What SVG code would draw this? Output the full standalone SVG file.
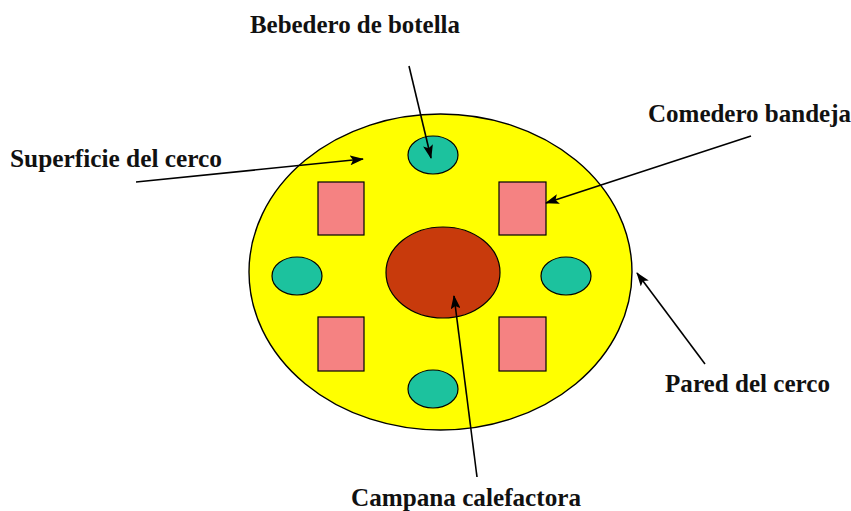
<svg xmlns="http://www.w3.org/2000/svg" width="851" height="511" viewBox="0 0 851 511">
<defs>
<marker id="ah" viewBox="0 0 14 10" refX="13" refY="5" markerWidth="14" markerHeight="10" markerUnits="userSpaceOnUse" orient="auto">
<path d="M0,0 L14,5 L0,10 L3,5 Z" fill="#000"/>
</marker>
<style>
.lbl{font-family:"Liberation Serif","Times New Roman",serif;font-weight:bold;font-size:25px;fill:#111;}
.conn line{stroke:#000;stroke-width:1.6;marker-end:url(#ah);}
.drink{fill:#1CC29E;stroke:#000;stroke-width:1.2;}
.feed{fill:#F58282;stroke:#000;stroke-width:1.2;}
</style>
</defs>
<rect width="851" height="511" fill="#fff"/>
<g id="pared">
<ellipse cx="440.5" cy="272" rx="191.5" ry="158" fill="#FFFF00" stroke="#000" stroke-width="1.4"/>
</g>
<g id="bebedero-top"><ellipse class="drink" cx="433" cy="155" rx="25" ry="19"/></g>
<g id="bebedero-left"><ellipse class="drink" cx="297" cy="276" rx="25" ry="19"/></g>
<g id="bebedero-right"><ellipse class="drink" cx="566" cy="276" rx="25" ry="19"/></g>
<g id="bebedero-bottom"><ellipse class="drink" cx="433" cy="389" rx="25" ry="19"/></g>
<g id="comedero-tl"><rect class="feed" x="318" y="182" width="46" height="53"/></g>
<g id="comedero-tr"><rect class="feed" x="499" y="182" width="47" height="53"/></g>
<g id="comedero-bl"><rect class="feed" x="318" y="317" width="46" height="54"/></g>
<g id="comedero-br"><rect class="feed" x="499" y="317" width="47" height="54"/></g>
<g id="campana"><ellipse cx="443" cy="272.5" rx="57" ry="45.5" fill="#C83A0C" stroke="#000" stroke-width="1.2"/></g>
<g id="labels">
<text class="lbl" x="250" y="33" textLength="210" lengthAdjust="spacingAndGlyphs">Bebedero de botella</text>
<text class="lbl" x="648" y="122" textLength="203" lengthAdjust="spacingAndGlyphs">Comedero bandeja</text>
<text class="lbl" x="10" y="167" textLength="212" lengthAdjust="spacingAndGlyphs">Superficie del cerco</text>
<text class="lbl" x="665" y="392" textLength="165" lengthAdjust="spacingAndGlyphs">Pared del cerco</text>
<text class="lbl" x="351" y="506" textLength="230" lengthAdjust="spacingAndGlyphs">Campana calefactora</text>
</g>
<g id="connectors" class="conn">
<line x1="409" y1="66" x2="431" y2="158"/>
<line x1="136" y1="182" x2="363" y2="159"/>
<line x1="751" y1="136" x2="546" y2="203"/>
<line x1="705" y1="364" x2="637" y2="273"/>
<line x1="477" y1="477" x2="454" y2="296"/>
</g>
</svg>
